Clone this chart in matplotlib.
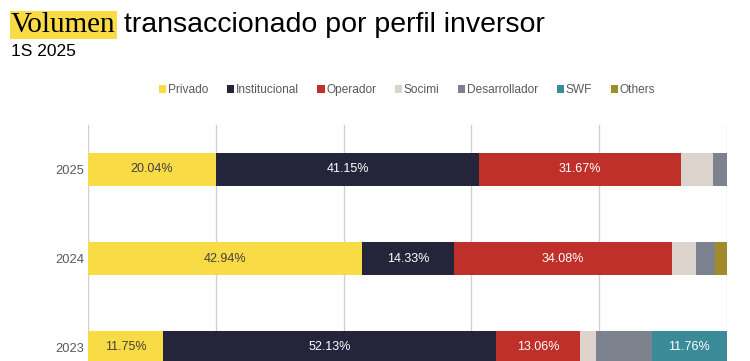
import numpy as np
import matplotlib.pyplot as plt
from matplotlib.patches import Patch

# datos
years = ['2025', '2024', '2023']
perfiles = ['Privado', 'Institucional', 'Operador', 'Socimi', 'Desarrollador', 'SWF', 'Others']
privado = [20.04, 42.94, 11.75]
institucional = [41.15, 14.33, 52.13]
operador = [31.67, 34.08, 13.06]
socimi = [4.90, 3.75, 2.50]
desarrollador = [2.24, 3.10, 8.80]
swf = [0.0, 0.0, 11.76]
others = [0.0, 1.80, 0.0]

colores = ['#F9DC45', '#24253A', '#C0302B', '#DCD3CC', '#7D838E', '#3A8A98', '#A08C2A']
txt_col = ['#404040', 'white', 'white', '#404040', 'white', 'white', 'white']

series = [privado, institucional, operador, socimi, desarrollador, swf, others]

fig = plt.figure(figsize=(7.5, 3.61), dpi=100)
ax = fig.add_axes([88/750, 0, (727-88)/750, 1-125/361])

y = np.arange(len(years))
left = np.zeros(len(years))
for vals, c, tc in zip(series, colores, txt_col):
    vals = np.array(vals)
    ax.barh(y, vals, left=left, height=0.36, color=c, zorder=3)
    for yi, v, l in zip(y, vals, left):
        if v >= 10:
            ax.text(l + v/2, yi, f'{v:.2f}%', ha='center', va='center',
                    color=tc, fontsize=9, family='Liberation Sans', zorder=4)
    left += vals

ax.set_xlim(0, 100)
ax.set_ylim(2 + 13.5/89, -0.5)
ax.set_xticks(np.arange(0, 101, 20))
ax.set_xticklabels([])
ax.tick_params(length=0)
ax.set_yticks(y)
ax.set_yticklabels(years, color='#595959', fontsize=9.3, family='Liberation Sans')
ax.tick_params(axis='y', pad=3)
ax.grid(axis='x', color='#D0D0D0', linewidth=1, zorder=0)
for s in ax.spines.values():
    s.set_visible(False)

handles = [Patch(facecolor=c, label=p) for p, c in zip(perfiles, colores)]
leg = fig.legend(handles=handles, loc='center', bbox_to_anchor=(407/750, 1-90/361),
                 ncol=7, frameon=False, handlelength=0.6, handleheight=0.6,
                 handletextpad=0.15, columnspacing=1.55,
                 prop={'family': 'Liberation Sans', 'size': 8.6})
for t in leg.get_texts():
    t.set_color('#595959')

fig.text(11/750, 1-25/361, 'Volumen', family='Liberation Serif', fontsize=21,
         va='center', ha='left',
         bbox=dict(facecolor='#F9DC45', edgecolor='none', pad=1.0))
fig.text(124/750, 1-25/361, 'transaccionado por perfil inversor', family='Liberation Sans',
         fontsize=20.5, va='center', ha='left')
fig.text(11/750, 1-51/361, '1S 2025', family='Liberation Sans', fontsize=12.5,
         va='center', ha='left')

fig.savefig('out.png', dpi=100)
